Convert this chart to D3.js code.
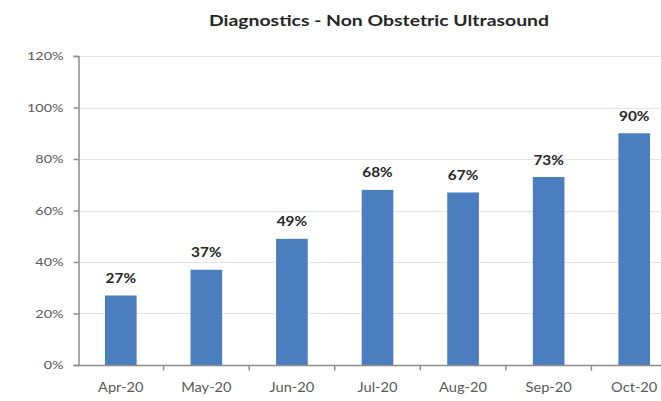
<!DOCTYPE html>
<html>
<head>
<meta charset="utf-8">
<script src="https://cdn.jsdelivr.net/npm/d3@7"></script>
<style>
  html, body { margin: 0; padding: 0; background: #fff; }
  svg { display: block; }
</style>
</head>
<body>
<svg id="chart" width="661" height="401"></svg>
<script>
// Monthly share of non-obstetric ultrasound diagnostics
const months = ["Apr-20", "May-20", "Jun-20", "Jul-20", "Aug-20", "Sep-20", "Oct-20"];
const values = [0.27, 0.37, 0.49, 0.68, 0.67, 0.73, 0.90];
const yTicks = [0, 0.2, 0.4, 0.6, 0.8, 1.0, 1.2];
const title = "Diagnostics - Non Obstetric Ultrasound";

const svg = d3.select("#chart");
const W = 661, H = 401;
const font = "Lato, 'Open Sans', 'Liberation Sans', sans-serif";

const plot = { left: 78, right: 677, top: 56, bottom: 365 };

// Widen a text selection horizontally by a factor, keeping its anchor
function widen(sel, k) {
  sel.each(function () {
    const len = this.getComputedTextLength();
    d3.select(this)
      .attr("textLength", len * k)
      .attr("lengthAdjust", "spacingAndGlyphs");
  });
}

const x = d3.scaleBand()
  .domain(months)
  .range([plot.left, plot.right])
  .paddingInner(0.63)
  .paddingOuter(0.315);

const y = d3.scaleLinear()
  .domain([0, 1.2])
  .range([plot.bottom, plot.top]);

// Title
svg.append("text")
  .attr("x", 379)
  .attr("y", 25.5)
  .attr("text-anchor", "middle")
  .attr("font-family", font)
  .attr("font-weight", "bold")
  .attr("font-size", 16)
  .attr("fill", "#262626")
  .text(title)
  .attr("textLength", 340)
  .attr("lengthAdjust", "spacingAndGlyphs");

// Horizontal gridlines
svg.append("g")
  .selectAll("line")
  .data(yTicks.filter(d => d > 0))
  .join("line")
  .attr("x1", plot.left)
  .attr("x2", W)
  .attr("y1", d => Math.round(y(d)) + 0.5)
  .attr("y2", d => Math.round(y(d)) + 0.5)
  .attr("stroke", "#e4e4e4")
  .attr("stroke-width", 1);

// Bars
svg.append("g")
  .selectAll("rect")
  .data(months)
  .join("rect")
  .attr("x", d => x(d))
  .attr("width", x.bandwidth())
  .attr("y", (d, i) => y(values[i]))
  .attr("height", (d, i) => y(0) - y(values[i]))
  .attr("fill", "#4a7ebf");

// Value labels
svg.append("g")
  .selectAll("text")
  .data(months)
  .join("text")
  .attr("x", d => x(d) + x.bandwidth() / 2)
  .attr("y", (d, i) => y(values[i]) - 12.5)
  .attr("text-anchor", "middle")
  .attr("font-family", font)
  .attr("font-weight", "bold")
  .attr("font-size", 14)
  .attr("fill", "#262626")
  .text((d, i) => d3.format(".0%")(values[i]))
  .call(widen, 1.1);

// Y axis
const yAxis = d3.axisLeft(y)
  .tickValues(yTicks)
  .tickFormat(d3.format(".0%"))
  .tickSize(5)
  .tickPadding(10);

const gy = svg.append("g")
  .attr("transform", `translate(${plot.left + 0.5},0)`)
  .call(yAxis);
gy.select(".domain").attr("stroke", "#8c8c8c").attr("stroke-width", 1.5);
gy.selectAll(".tick line").attr("stroke", "#8c8c8c").attr("stroke-width", 1.5);
gy.selectAll(".tick text")
  .attr("font-family", font)
  .attr("font-size", 11.5)
  .attr("fill", "#595959")
  .call(widen, 1.25);

// X axis: baseline with tick marks between categories
const gx = svg.append("g")
  .attr("transform", `translate(0,${plot.bottom + 0.5})`);
gx.append("line")
  .attr("x1", plot.left)
  .attr("x2", W)
  .attr("stroke", "#8c8c8c")
  .attr("stroke-width", 1.5);

const step = x.step();
gx.selectAll("line.sep")
  .data(months.slice(1))
  .join("line")
  .attr("class", "sep")
  .attr("x1", d => x(d) - (step - x.bandwidth()) / 2)
  .attr("x2", d => x(d) - (step - x.bandwidth()) / 2)
  .attr("y1", 0)
  .attr("y2", 5)
  .attr("stroke", "#8c8c8c")
  .attr("stroke-width", 1.5);

gx.selectAll("text")
  .data(months)
  .join("text")
  .attr("x", d => x(d) + x.bandwidth() / 2)
  .attr("y", 26)
  .attr("text-anchor", "middle")
  .attr("font-family", font)
  .attr("font-size", 12.5)
  .attr("fill", "#595959")
  .text(d => d)
  .call(widen, 1.17);
</script>
</body>
</html>
